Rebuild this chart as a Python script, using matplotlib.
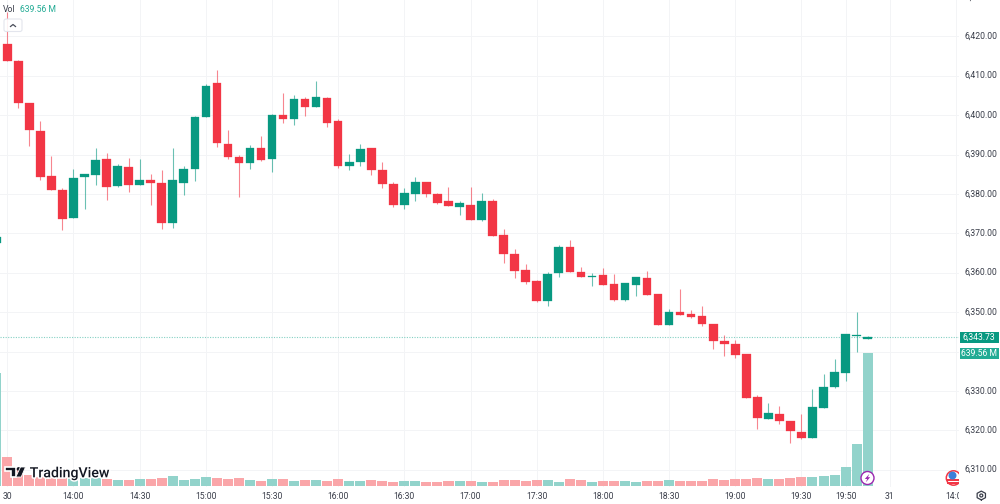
import matplotlib
matplotlib.use("Agg")
import matplotlib.pyplot as plt
from matplotlib.patches import Circle, FancyBboxPatch, Polygon, Rectangle
from matplotlib.transforms import Bbox, ScaledTranslation
import matplotlib.patheffects as pe
import numpy as np

# 5 minute session candles, the first entry is the bar just left of the view
opens = [6367.6, 6418.14, 6413.74, 6403.08, 6395.89, 6384.64, 6380.91, 6373.81, 6384.21, 6384.89, 6388.95,
         6382.01, 6386.75, 6382.18, 6383.54, 6382.77, 6372.62, 6382.69, 6386.33, 6399.53, 6408.16,
         6392.59, 6389.29, 6387.77, 6391.66, 6388.78, 6400.03, 6399.02, 6404.18, 6401.98, 6404.43,
         6398.48, 6386.97, 6388.16, 6391.54, 6386.04, 6382.4, 6377.07, 6380.03, 6382.99, 6379.95,
         6378.09, 6376.65, 6377.24, 6373.27, 6378.26, 6369.54, 6364.81, 6360.74, 6357.95, 6352.71,
         6359.81, 6366.5, 6360.24, 6358.97, 6359.39, 6357.02, 6353.05, 6356.77, 6358.71, 6354.65,
         6346.83, 6350.06, 6349.55, 6349.04, 6347.0, 6342.58, 6341.9, 6339.35, 6328.39, 6322.87,
         6324.15, 6322.45, 6319.56, 6318.11, 6325.76, 6331.03, 6334.51, 6343.86, 6343.2]
highs = [6369.5, 6426.26, 6413.91, 6403.08, 6398.6, 6389.63, 6381.42, 6386.33, 6384.97, 6391.57, 6390.39,
         6387.51, 6389.04, 6388.87, 6385.14, 6385.99, 6391.66, 6387.09, 6399.7, 6407.82, 6411.54,
         6396.14, 6389.88, 6392.33, 6394.7, 6400.29, 6405.53, 6405.11, 6404.52, 6408.58, 6404.52,
         6398.98, 6390.02, 6392.64, 6391.54, 6388.16, 6382.99, 6381.47, 6384.18, 6382.99, 6380.2,
         6381.64, 6378.09, 6381.64, 6380.12, 6378.76, 6370.98, 6366.07, 6362.18, 6358.21, 6360.07,
         6367.0, 6368.19, 6361.51, 6359.9, 6361.08, 6359.56, 6357.45, 6358.88, 6360.41, 6354.65,
         6350.82, 6355.75, 6350.65, 6351.67, 6347.09, 6344.2, 6342.92, 6339.35, 6328.9, 6326.86,
         6326.1, 6322.45, 6324.06, 6330.52, 6334.34, 6338.08, 6344.45, 6350.06, 6344.0]
lows = [6367.0, 6413.65, 6401.9, 6392.25, 6383.45, 6381.0, 6370.85, 6373.81, 6376.18, 6382.27, 6378.46,
        6381.67, 6380.41, 6382.18, 6377.28, 6371.02, 6371.44, 6379.81, 6383.37, 6399.53, 6391.91,
        6388.95, 6379.31, 6386.41, 6388.44, 6385.48, 6398.09, 6397.5, 6399.78, 6401.98, 6396.99,
        6386.55, 6385.96, 6387.14, 6384.69, 6381.39, 6376.65, 6376.14, 6378.17, 6379.19, 6377.33,
        6376.82, 6374.62, 6373.27, 6373.18, 6369.2, 6362.52, 6358.54, 6357.02, 6352.45, 6351.44,
        6358.8, 6360.15, 6358.8, 6356.51, 6356.94, 6352.88, 6352.88, 6354.06, 6354.23, 6346.83,
        6346.83, 6349.38, 6348.62, 6346.41, 6340.63, 6338.76, 6338.25, 6328.31, 6320.32, 6322.87,
        6321.51, 6316.84, 6317.69, 6318.11, 6325.76, 6330.69, 6332.56, 6339.78, 6343.2]
closes = [6369.0, 6413.65, 6403.08, 6396.31, 6384.38, 6381.0, 6373.72, 6384.04, 6384.97, 6388.61, 6381.67,
          6387.17, 6382.18, 6383.45, 6382.69, 6372.62, 6383.54, 6386.41, 6399.61, 6407.48, 6392.93,
          6389.46, 6387.77, 6391.66, 6388.7, 6399.95, 6399.1, 6404.09, 6402.15, 6404.6, 6398.0,
          6386.97, 6388.16, 6391.37, 6386.13, 6382.4, 6377.16, 6380.12, 6382.99, 6379.86, 6377.58,
          6376.82, 6377.75, 6373.27, 6378.26, 6369.37, 6364.72, 6360.49, 6357.61, 6352.71, 6359.73,
          6366.5, 6360.15, 6358.8, 6359.22, 6356.94, 6353.05, 6357.28, 6358.88, 6354.4, 6346.83,
          6350.06, 6349.38, 6348.78, 6347.09, 6342.58, 6341.82, 6339.18, 6328.31, 6323.04, 6324.32,
          6322.36, 6319.73, 6317.94, 6325.85, 6330.94, 6334.68, 6344.45, 6344.2, 6343.73]
volumes = [545, 140, 82, 52, 45, 39, 39, 39, 39, 39, 35, 30, 30, 34, 34, 39, 50, 30, 34, 42, 39,
           32, 39, 27, 24, 32, 32, 24, 29, 29, 25, 32, 24, 24, 29, 26, 21, 26, 26, 21, 21,
           26, 24, 26, 21, 21, 29, 29, 26, 29, 29, 21, 35, 29, 21, 26, 26, 26, 21, 26, 26,
           29, 24, 24, 24, 34, 29, 35, 35, 39, 32, 32, 39, 42, 45, 48, 53, 90, 202, 639.56]
bar_index = np.arange(-1, len(opens) - 1)

time_ticks = [0, 6, 12, 18, 24, 30, 36, 42, 48, 54, 60, 66, 72, 76, 80, 86]
time_labels = ["30", "14:00", "14:30", "15:00", "15:30", "16:00", "16:30", "17:00", "17:30",
               "18:00", "18:30", "19:00", "19:30", "19:50", "31", "14:00"]
price_ticks = [6310, 6320, 6330, 6340, 6350, 6360, 6370, 6380, 6390, 6400, 6410, 6420]
last_price = closes[-1]
last_volume = volumes[-1]

UP = "#089981"
DOWN = "#F23645"
UP_VOL = "#92D3CB"
DOWN_VOL = "#FAA6A9"
GRID = "#F3F4F6"
TEXT = "#3A3E4A"
FONT = "Roboto"
SIZE = 6.2

W, H = 1000, 504
plot_right, plot_bottom = 958.5, 487.0
px_per_bar = 11.03
px_per_point = 3.94

plt.rcParams["font.family"] = [FONT, "DejaVu Sans"]
fig = plt.figure(figsize=(W / 100, H / 100), dpi=100, facecolor="white")
rect = [0, 1 - plot_bottom / H, plot_right / W, plot_bottom / H]

xlim = (-7.3 / px_per_bar, (plot_right - 7.3) / px_per_bar)

ax = fig.add_axes(rect, zorder=1)
ax.set_xlim(xlim)
ax.set_ylim(6420 - (plot_bottom - 36.3) / px_per_point, 6420 + 36.3 / px_per_point)
for side in ax.spines.values():
    side.set_visible(False)
ax.set_xticks(time_ticks, time_labels)
# 6,340 sits under the volume tag on the scale, only its grid line shows
ax.set_yticks(price_ticks, ["" if p == 6340 else f"{p:,.2f}" for p in price_ticks])
ax.yaxis.tick_right()
ax.tick_params(axis="both", length=0, labelsize=SIZE, labelcolor=TEXT)
ax.tick_params(axis="x", pad=3.5)
ax.tick_params(axis="y", pad=4.6)
ax.grid(True, color=GRID, lw=0.72)
ax.set_axisbelow(True)

# the next session label runs into the price scale
clip = Bbox([[0, 0], [plot_right, H]])
for label in ax.get_xticklabels():
    label.set_clip_on(True)
    label.set_clip_box(clip)

# nudge the scale labels up a little from their grid lines
nudge = ScaledTranslation(0, 1.2 / fig.dpi, fig.dpi_scale_trans)
for label in ax.get_yticklabels():
    label.set_transform(label.get_transform() + nudge)

is_up = np.array(closes) >= np.array(opens)
colors = [UP if u else DOWN for u in is_up]
body_low = np.minimum(opens, closes)
body_height = np.abs(np.array(closes) - np.array(opens))

ax.vlines(bar_index, lows, highs, colors=colors, lw=0.8, alpha=0.6, zorder=3)
ax.bar(bar_index, body_height, bottom=body_low, width=8.6 / px_per_bar, color=colors,
       edgecolor=colors, linewidth=0.2, zorder=4)
ax.axhline(last_price, color="#22AB94", lw=0.8, ls=(0, (1, 1.3)), alpha=0.55, zorder=2)

# volume pane shares the x positions, zero sits just above the pane edge
ax_vol = fig.add_axes(rect, zorder=2, sharex=ax)
ax_vol.patch.set_visible(False)
ax_vol.axis("off")
m_per_px = last_volume / 132.7
ax_vol.set_ylim(-1.0 * m_per_px, (plot_bottom - 1.0) * m_per_px)
ax_vol.bar(bar_index, volumes, width=10.0 / px_per_bar, color=[UP_VOL if u else DOWN_VOL for u in is_up])
ax.set_xlim(xlim)

# overlay in pixel units for labels and chart furniture
top = fig.add_axes([0, 0, 1, 1], zorder=5)
top.set_xlim(0, W)
top.set_ylim(H, 0)
top.axis("off")

top.text(3, 9, "Vol", fontsize=SIZE, color=TEXT, va="center")
top.text(20, 9, f"{last_volume:.2f} M", fontsize=SIZE, color="#22AB94", va="center")
top.add_patch(FancyBboxPatch((4, 19), 18, 12.5, boxstyle="round,pad=0,rounding_size=2",
                             fc="white", ec="#E0E3EB", lw=0.8, alpha=0.9))
top.plot([10.5, 13, 15.5], [26.5, 24.5, 26.5], color="#4A4E5A", lw=0.9)

top.add_patch(Rectangle((959.5, 332), 39.5, 11, fc=UP, ec="none"))
top.text(979.2, 337.5, f"{last_price:,.2f}", fontsize=SIZE, color="white", ha="center", va="center")
top.add_patch(Rectangle((959.5, 348.3), 39.5, 11, fc="#22AB94", ec="none"))
top.text(979.2, 353.8, f"{last_volume:.2f} M", fontsize=SIZE, color="white", ha="center", va="center")
top.text(965, -3, "6,430.00", fontsize=SIZE, color=TEXT, va="center")

# TradingView mark
halo = [pe.withStroke(linewidth=2.2, foreground="white")]
logo = [
    Polygon([(5, 467), (16, 467), (16, 477), (10.5, 477), (10.5, 471), (5, 471)], fc="#131722", ec="white", lw=1.2),
    Circle((18.6, 469), 1.9, fc="#131722", ec="none"),
    Polygon([(20.5, 467), (25.5, 467), (21.2, 477), (15.8, 477)], fc="#131722", ec="white", lw=0.6),
]
for patch in logo:
    top.add_patch(patch)
top.text(29.7, 477.3, "TradingView", fontsize=10.2, fontweight="medium", color="#131722",
         va="baseline", path_effects=halo)

# streaming badge on the last bar
top.add_patch(Circle((867.5, 478), 6.5, fc="white", ec="#9C27B0", lw=1.0))
top.add_patch(Polygon([(869.4, 473.8), (864.8, 479), (867.2, 479), (865.8, 482.3), (870.2, 477.2), (867.9, 477.2)],
                      fc="#9C27B0", ec="none"))

# calendar flag, cut off by the price scale
flag_clip = Rectangle((940, 465), plot_right - 940, 30, transform=top.transData)
flag_parts = [
    Circle((953.5, 478), 7.2, fc="white", ec="#F23645", lw=1.1),
    Rectangle((947, 479), 12, 1.5, fc="#F23645", ec="none"),
    Rectangle((947, 482.2), 12, 1.5, fc="#F23645", ec="none"),
    Circle((952.5, 475.5), 4.0, fc="#3D7FD9", ec="none"),
]
for patch in flag_parts:
    top.add_patch(patch)
    patch.set_clip_path(flag_clip)

# settings gear in the corner
gear_angle = np.linspace(0, 2 * np.pi, 7)
top.plot(981.3 + 4.8 * np.sin(gear_angle), 495.5 + 4.4 * np.cos(gear_angle), color=TEXT, lw=0.9)
top.add_patch(Circle((981.3, 495.5), 1.5, fc="none", ec=TEXT, lw=0.9))

fig.savefig("out.png", dpi=100, facecolor="white")
